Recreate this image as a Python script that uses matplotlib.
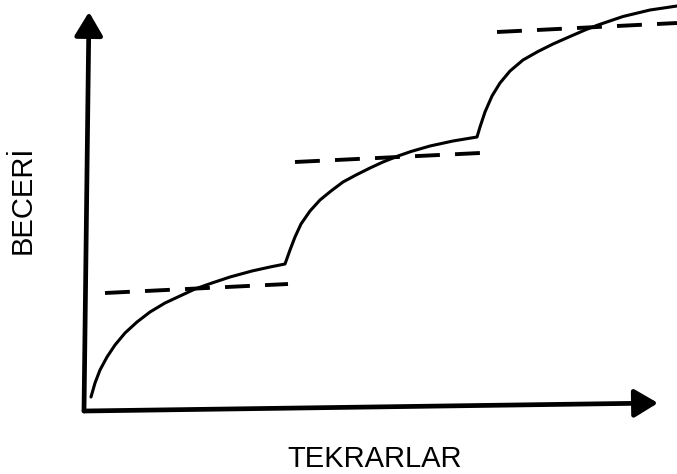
import matplotlib
matplotlib.use('Agg')
import matplotlib.pyplot as plt

# learning curve with plateaus (units: repetitions vs skill, arbitrary)
tekrar_1 = [6, 10, 15, 22, 30, 40, 52, 65, 80, 95, 110, 127, 145, 167, 185, 200]
beceri_1 = [12, 26, 39, 52, 64, 76, 87, 97, 106, 113, 120, 126, 132, 138, 142, 145]
tekrar_2 = [200, 205, 210, 216, 225, 235, 246, 258, 271, 285, 298, 313, 326, 345, 368, 392]
beceri_2 = [145, 159, 172, 185, 198, 209, 218, 227, 234, 241, 247, 253, 257.5, 263, 268, 272]
tekrar_3 = [392, 395, 400, 407, 415, 425, 438, 453, 468, 485, 500, 513, 538, 565, 592]
beceri_3 = [272, 282, 297, 313, 326, 338, 349, 357.5, 365, 372.5, 379, 384, 392.5, 399, 403]

# plateau (dashed) lines: start and end
plato_x = [(20, 203), (210, 395), (412, 592)]
plato_y = [(116, 125), (247, 256), (377, 386)]

# axes drawn by hand (slightly tilted like the original sketch)
eksen_x = [(-1, 573), (-2, 6)]
eksen_y = [(-1, 4), (-2, 397)]

plt.rcParams['font.family'] = ['Liberation Sans', 'DejaVu Sans']

fig = plt.figure(figsize=(6.77, 4.74), dpi=100)
ax = fig.add_axes([0, 0, 1, 1])
ax.set_xlim(-85, 592)
ax.set_ylim(-65, 409)
ax.axis('off')

egri_x = tekrar_1 + tekrar_2[1:] + tekrar_3[1:]
egri_y = beceri_1 + beceri_2[1:] + beceri_3[1:]
ax.plot(egri_x, egri_y, color='black', lw=2.2, solid_joinstyle='round',
        solid_capstyle='round')

for px, py in zip(plato_x, plato_y):
    ax.plot(px, py, color='black', lw=2.8, dashes=(6.4, 3.9),
            dash_capstyle='butt')

arrow = dict(arrowstyle='-|>,head_length=0.72,head_width=0.43',
             color='black', lw=3.4, mutation_scale=20, shrinkA=0, shrinkB=0)
ax.annotate('', xy=(eksen_x[0][1], eksen_x[1][1]),
            xytext=(eksen_x[0][0], eksen_x[1][0]), arrowprops=arrow)
ax.annotate('', xy=(eksen_y[0][1], eksen_y[1][1]),
            xytext=(eksen_y[0][0], eksen_y[1][0]), arrowprops=arrow)

ax.text(-62, 209, 'BECERİ', rotation=90, fontsize=21, ha='center',
        va='center')
ax.text(290, -50, 'TEKRARLAR', fontsize=21, ha='center', va='center')

plt.savefig('out.png', dpi=100)
